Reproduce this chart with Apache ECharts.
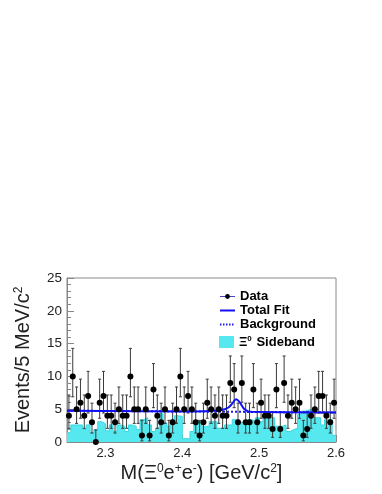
<!DOCTYPE html>
<html>
<head>
<meta charset="utf-8">
<script src="https://cdn.jsdelivr.net/npm/echarts@6/dist/echarts.min.js"></script>
<style>
  html, body { margin: 0; padding: 0; background: #fff; }
  #chart { width: 382px; height: 494px; }
</style>
</head>
<body>
<div id="chart"></div>
<script>
// 5 MeV bins from 2.25 to 2.60 GeV/c2
const binStart = 2.25
const binWidth = 0.005

// events per bin (data points)
const dataCounts = [
  4, 10, 5, 6, 4, 7, 3, 0, 6, 7,
  4, 4, 3, 5, 4, 4, 10, 5, 5, 1,
  5, 1, 8, 4, 3, 5, 1, 3, 5, 10,
  5, 7, 5, 3, 1, 3, 6, 5, 4, 5,
  4, 4, 9, 8, 3, 9, 3, 3, 8, 3,
  6, 4, 4, 2, 8, 2, 9, 4, 6, 5,
  6, 1, 2, 4, 5, 7, 7, 4, 3, 6
]

// scaled Xi0 sideband histogram
const sidebandValues = [
  1.4, 2.6, 2.6, 2.6, 1.9, 2.6, 1.4, 1.9, 3.1, 2.8,
  1.7, 2.6, 1.6, 2.6, 2.4, 1.6, 2.6, 2.4, 1.9, 3.4,
  3.7, 2.6, 1.6, 2.1, 4.3, 2.9, 2.4, 3.4, 4.0, 3.9,
  0.5, 0.5, 1.6, 2.6, 3.1, 2.4, 2.4, 3.1, 3.1, 2.1,
  2.1, 2.6, 2.6, 3.4, 3.1, 2.9, 2.8, 3.4, 3.2, 3.7,
  3.1, 4.2, 3.7, 3.7, 2.4, 2.4, 2.6, 1.6, 1.9, 2.1,
  4.2, 4.7, 4.9, 4.9, 3.7, 3.7, 2.6, 3.4, 3.4, 1.0
]

// Garwood 68% interval edges, indexed by count
const poissonLow  = [0, 0.173, 0.708, 1.367, 2.086, 2.840, 3.620, 4.419, 5.232, 6.057, 6.891]
const poissonHigh = [1.841, 3.300, 4.638, 5.918, 7.163, 8.382, 9.584, 10.77, 11.95, 13.11, 14.27]

// fit curves
const totalFit = [
  [2.25, 4.77], [2.40, 4.66], [2.43, 4.70], [2.44, 4.76], [2.45, 4.88],
  [2.455, 5.0], [2.46, 5.25], [2.465, 5.85], [2.47, 6.5], [2.475, 6.0],
  [2.48, 5.1], [2.485, 4.7], [2.49, 4.6], [2.6, 4.5]
]
const background = [[2.25, 4.77], [2.6, 4.5]]

const xTickLabels = [2.3, 2.4, 2.5, 2.6]

let myChart = echarts.init(document.getElementById('chart'))

const points = dataCounts.map((n, i) => [+(binStart + binWidth * (i + 0.5)).toFixed(4), n])
const errBars = dataCounts.map((n, i) => [points[i][0], poissonLow[n], poissonHigh[n]])
const sideSteps = sidebandValues.map((v, i) => [+(binStart + binWidth * i).toFixed(4), v])
sideSteps.push([2.6, sidebandValues[sidebandValues.length - 1]])

let minorX = []
for (let k = 0; k <= 35; k++) minorX.push(+(2.25 + k * 0.01).toFixed(2))

const font = 'Liberation Sans, Arial, sans-serif'
const frameColor = '#888'
const legendText = {
  fontFamily: font, fontWeight: 'bold', fontSize: 13, color: '#000',
  rich: {
    xi: { fontFamily: font, fontSize: 13, color: '#000' },
    sup: { fontFamily: font, fontSize: 8, color: '#000', verticalAlign: 'top', padding: [0, 1, 6, 0] }
  }
}

let option = {
  animation: false,
  grid: { left: 67, right: 46, top: 278, bottom: 52, show: true, borderColor: frameColor, borderWidth: 1 },
  legend: [
    {
      orient: 'vertical',
      left: 214,
      top: 285,
      itemWidth: 15,
      itemHeight: 6,
      itemGap: 1,
      textStyle: legendText,
      data: [
        { name: 'Data', lineStyle: { color: '#4646c8', width: 1 } },
        { name: 'Total Fit', itemStyle: { opacity: 0 } },
        { name: 'Background', itemStyle: { opacity: 0 }, lineStyle: { type: [1.5, 1.5] } }
      ]
    },
    {
      orient: 'vertical',
      left: 214,
      top: 330,
      itemWidth: 15,
      itemHeight: 12,
      textStyle: legendText,
      formatter: () => '{xi|Ξ}{sup|0} Sideband',
      data: [{ name: 'Sideband', icon: 'rect' }]
    }
  ],
  xAxis: [
    {
      type: 'value', min: 2.25, max: 2.6,
      axisLine: { show: true, onZero: false, lineStyle: { color: frameColor } },
      axisTick: { show: true, inside: true, length: 7, customValues: xTickLabels, lineStyle: { color: frameColor } },
      axisLabel: { customValues: xTickLabels, fontFamily: font, fontSize: 13, color: '#222', margin: 5,
        formatter: v => v.toFixed(1) },
      splitLine: { show: false },
      name: 'M({xi|Ξ}{sup|0}e{sup|+}e{sup|-}) [GeV/c{sup|2}]',
      nameLocation: 'middle',
      nameGap: 21,
      nameTextStyle: {
        fontFamily: font, fontSize: 20, color: '#222',
        rich: {
          xi: { fontFamily: font, fontSize: 20, color: '#222' },
          sup: { fontFamily: font, fontSize: 12, color: '#222', verticalAlign: 'top', padding: [0, 0, 8, 0] }
        }
      }
    },
    {
      type: 'value', min: 2.25, max: 2.6, position: 'bottom',
      axisLine: { show: false },
      axisTick: { show: true, inside: true, length: 4, customValues: minorX, lineStyle: { color: frameColor } },
      axisLabel: { show: false },
      splitLine: { show: false }
    }
  ],
  yAxis: {
    type: 'value', min: 0, max: 25, interval: 5,
    axisLine: { show: true, lineStyle: { color: frameColor } },
    axisTick: { show: true, inside: true, length: 7, lineStyle: { color: frameColor } },
    minorTick: { show: true, splitNumber: 5, length: 4, lineStyle: { color: frameColor } },
    splitLine: { show: false },
    axisLabel: { fontFamily: font, fontSize: 13.5, color: '#222', margin: 5 },
    name: 'Events/5 MeV/c{sup|2}',
    nameLocation: 'middle',
    nameGap: 34,
    nameRotate: 90,
    nameTextStyle: {
      fontFamily: font, fontSize: 20, color: '#222',
      rich: {
        sup: { fontFamily: font, fontSize: 12, color: '#222', verticalAlign: 'top', padding: [0, 0, 8, 0] }
      }
    }
  },
  series: [
    {
      name: 'Sideband',
      type: 'line',
      step: 'end',
      data: sideSteps,
      symbol: 'none',
      lineStyle: { color: '#3ad8e4', width: 1 },
      itemStyle: { color: '#55e8ef' },
      areaStyle: { color: '#55e8ef', opacity: 1 },
      z: 1
    },
    {
      name: 'errors',
      type: 'custom',
      data: errBars,
      z: 3,
      silent: true,
      renderItem(params, api) {
        const x = api.value(0)
        const top = api.coord([x, api.value(2)])
        const bot = api.coord([x, api.value(1)])
        const c = 1.5
        const st = { stroke: '#3a3a3a', lineWidth: 1 }
        return {
          type: 'group',
          children: [
            { type: 'line', shape: { x1: top[0], y1: top[1], x2: bot[0], y2: bot[1] }, style: st },
            { type: 'line', shape: { x1: top[0] - c, y1: top[1], x2: top[0] + c, y2: top[1] }, style: st },
            { type: 'line', shape: { x1: bot[0] - c, y1: bot[1], x2: bot[0] + c, y2: bot[1] }, style: st }
          ]
        }
      }
    },
    {
      name: 'Background',
      type: 'line',
      data: background,
      symbol: 'none',
      lineStyle: { color: '#1c1cf0', width: 2, type: [2, 2] },
      itemStyle: { color: '#1c1cf0' },
      z: 4
    },
    {
      name: 'Total Fit',
      type: 'line',
      data: totalFit,
      smooth: 0.4,
      symbol: 'none',
      lineStyle: { color: '#1010f5', width: 2 },
      itemStyle: { color: '#1010f5' },
      z: 5
    },
    {
      name: 'Data',
      type: 'line',
      data: points,
      symbol: 'circle',
      symbolSize: 6,
      lineStyle: { width: 0, color: '#4646c8' },
      itemStyle: { color: '#000' },
      z: 6
    }
  ]
}
myChart.setOption(option)
</script>
</body>
</html>
